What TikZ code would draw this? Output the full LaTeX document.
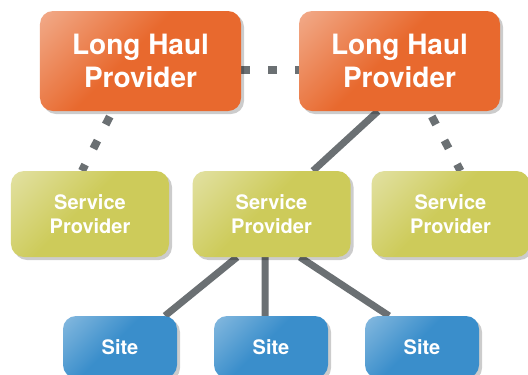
\documentclass[tikz,border=0pt]{standalone}
\usepackage{fontspec}
\setsansfont{TeX Gyre Heros}
\usetikzlibrary{shadows,backgrounds}
\definecolor{haulc}{HTML}{E8692E}
\definecolor{haull}{HTML}{F6C9B4}
\definecolor{svcc}{HTML}{CDCB5A}
\definecolor{svcl}{HTML}{ECEBC4}
\definecolor{sitec}{HTML}{3A8ECB}
\definecolor{sitel}{HTML}{A8CDE8}
\definecolor{linkc}{HTML}{6B7073}
\pgfdeclareverticalshading{haulsh}{100bp}{color(0bp)=(haulc); color(54bp)=(haulc); color(100bp)=(haull)}
\pgfdeclareverticalshading{svcsh}{100bp}{color(0bp)=(svcc); color(54bp)=(svcc); color(100bp)=(svcl)}
\pgfdeclareverticalshading{sitesh}{100bp}{color(0bp)=(sitec); color(54bp)=(sitec); color(100bp)=(sitel)}
\begin{document}
\begin{tikzpicture}[x=1bp, y=-1bp,
  box/.style={rounded corners=13bp, inner sep=0pt, align=center, text=white,
    shading angle=45,
    drop shadow={shadow xshift=3bp, shadow yshift=-3bp, fill=black, opacity=.2}},
  haul/.style={box, minimum width=201bp, minimum height=100bp, shade, shading=haulsh,
    font=\sffamily\bfseries\fontsize{28bp}{33bp}\selectfont},
  svc/.style={box, minimum width=158bp, minimum height=86bp, shade, shading=svcsh,
    font=\sffamily\bfseries\fontsize{20bp}{24bp}\selectfont},
  site/.style={box, minimum width=114bp, minimum height=62bp, shade, shading=sitesh,
    font=\sffamily\bfseries\fontsize{20bp}{24bp}\selectfont},
  link/.style={draw=linkc, line width=7bp},
  dots/.style={draw=linkc, line width=8bp, dash pattern=on 9bp off 18bp}]
\useasboundingbox (0,0) rectangle (528,374);
\clip (0,0) rectangle (528,374);

% providers
\node[haul] (lh1) at (140.5,61) {Long Haul\\Provider};
\node[haul] (lh2) at (399.5,61) {Long Haul\\Provider};

\node[svc] (sp1) at (90,214) {Service\\Provider};
\node[svc] (sp2) at (271.5,214) {Service\\Provider};
\node[svc] (sp3) at (450.5,214) {Service\\Provider};

% sites
\node[site] (s1) at (120,347) {Site};
\node[site] (s2) at (271,347) {Site};
\node[site] (s3) at (422,347) {Site};

\begin{scope}[on background layer]
\fill[white] (0,0) rectangle (528,374);
\draw[dots] ([yshift=-9bp]lh1.east)--([yshift=-9bp]lh2.west);
\draw[dots, dash phase=21bp] ([xshift=-28bp]lh1.south)--([xshift=-8bp]sp1.north);
\draw[dots, dash phase=21bp] ([xshift=29.5bp]lh2.south)--([xshift=10bp]sp3.north);
\draw[link] ([xshift=-21.5bp]lh2.south)--([xshift=41.5bp]sp2.north);
\draw[link] ([xshift=-34.5bp]sp2.south)--([xshift=45bp]s1.north);
\draw[link] ([xshift=-6.5bp]sp2.south)--([xshift=-6bp]s2.north);
\draw[link] ([xshift=28.5bp]sp2.south)--([xshift=-33bp]s3.north);
\end{scope}
\end{tikzpicture}
\end{document}
